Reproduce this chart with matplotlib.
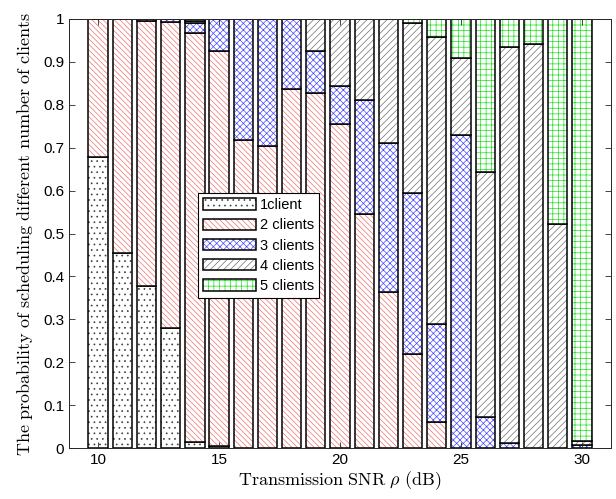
import matplotlib
matplotlib.use("Agg")
import matplotlib.pyplot as plt
from matplotlib.patches import Patch
from matplotlib.legend_handler import HandlerTuple

# Transmission SNR (dB) and per-segment probabilities (stacked)
snr = [10, 11, 12, 13, 14, 15, 16, 17, 18, 19, 20, 21, 22, 23, 24, 25, 26, 27, 28, 29, 30]
p1 = [0.678, 0.455, 0.378, 0.280, 0.015, 0.004, 0, 0, 0, 0, 0, 0, 0, 0, 0, 0, 0, 0, 0, 0, 0]
p2 = [0.322, 0.545, 0.618, 0.713, 0.953, 0.922, 0.718, 0.704, 0.836, 0.828, 0.755, 0.546,
      0.364, 0.218, 0.061, 0, 0, 0, 0, 0, 0]
p3 = [0, 0, 0.004, 0.007, 0.022, 0.074, 0.282, 0.296, 0.164, 0.097, 0.089, 0.265,
      0.348, 0.376, 0.228, 0.730, 0.072, 0.011, 0, 0, 0.007]
p4 = [0, 0, 0, 0, 0.006, 0, 0, 0, 0, 0.075, 0.156, 0.189,
      0.288, 0.396, 0.668, 0.178, 0.572, 0.923, 0.942, 0.521, 0.010]
p5 = [0, 0, 0, 0, 0.004, 0, 0, 0, 0, 0, 0, 0,
      0, 0.010, 0.043, 0.092, 0.356, 0.066, 0.058, 0.479, 0.983]
labels = ["1client", "2 clients", "3 clients", "4 clients", "5 clients"]

plt.rcParams["mathtext.fontset"] = "cm"
plt.rcParams["hatch.linewidth"] = 0.5
plt.rcParams["font.family"] = "Liberation Sans"

# hatch colour and pattern for each number of clients
styles = [
    ("#404040", "..."),
    ("#f07070", "\\" * 6),
    ("#4848ff", "x" * 5),
    ("#707070", "/" * 5),
    ("#20e020", "+" * 3),
]

fig = plt.figure(figsize=(6.16, 4.99), dpi=100)
ax = fig.add_axes([69 / 616, 1 - 448 / 499, 542 / 616, 429 / 499])

bottom = [0.0] * len(snr)
handles = []
for series, (hc, hatch), lab in zip([p1, p2, p3, p4, p5], styles, labels):
    ax.bar(snr, series, bottom=bottom, width=0.8, color="white",
           edgecolor=hc, hatch=hatch, linewidth=0)
    ax.bar(snr, series, bottom=bottom, width=0.8, fill=False,
           edgecolor="black", linewidth=1.1)
    bottom = [b + v for b, v in zip(bottom, series)]
    handles.append((Patch(facecolor="white", edgecolor=hc, hatch=hatch, linewidth=0),
                    Patch(fill=False, edgecolor="black", linewidth=1.1)))

ax.set_xlim(8.8, 31.2)
ax.set_ylim(0, 1)
ax.set_xticks([10, 15, 20, 25, 30])
ax.set_yticks([i / 10 for i in range(11)])
ax.set_yticklabels(["0", "0.1", "0.2", "0.3", "0.4", "0.5", "0.6", "0.7", "0.8", "0.9", "1"])
ax.tick_params(direction="in", top=True, right=True, labelsize=11, length=4,
               width=0.6, color="#262626")
for sp in ax.spines.values():
    sp.set_color("#262626")
    sp.set_linewidth(0.7)

ax.set_xlabel(r"$\mathrm{Transmission\ SNR}\ \rho\ \mathrm{(dB)}$", fontsize=13, labelpad=2)
ax.set_ylabel(r"$\mathrm{The\ probability\ of\ scheduling\ different\ number\ of\ clients}$",
              fontsize=13, labelpad=6)

leg = ax.legend(handles, labels, handler_map={tuple: HandlerTuple(ndivide=1, pad=0)},
                loc="upper left", bbox_to_anchor=(0.238, 0.594), borderaxespad=0,
                fontsize=10.5, handlelength=3.6, handleheight=0.85, labelspacing=0.42,
                handletextpad=0.3, borderpad=0.35, fancybox=False, framealpha=1,
                edgecolor="black")
leg.get_frame().set_linewidth(0.8)

fig.savefig("out.png", dpi=100)
